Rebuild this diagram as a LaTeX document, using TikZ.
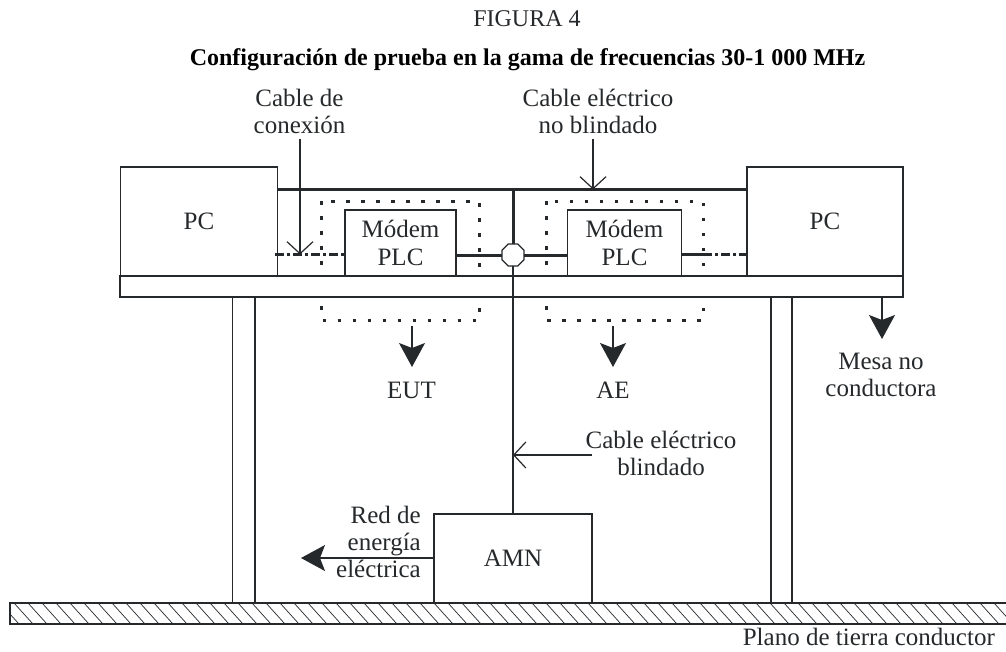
\documentclass[tikz,border=0pt]{standalone}
\usepackage{fontspec}
\setmainfont{Liberation Serif}
\usetikzlibrary{arrows.meta}
\usetikzlibrary{shapes.geometric}
\definecolor{ink}{HTML}{26292B}
\newcommand*{\thinw }{1.2pt}
\newcommand*{\thickw}{3pt}
\newcommand*{\topy  }{189.5}
\newcommand*{\cably }{255}
\newcommand*{\desky }{286.5}
\newcommand*{\footy }{450}
\tikzset{
    box/.style    = {draw, line width=\thinw, fill=white, inner sep=0pt, outer sep=0pt, align=center},
    txt/.style    = {inner sep=0pt, align=center, anchor=base},
    power/.style  = {line width=\thickw},
    thinln/.style = {line width=\thinw},
    dotbox/.style = {line width=3pt, dash pattern=on 3.5pt off 11.5pt},
    dashln/.style = {line width=\thickw, dash pattern=on 9pt off 3pt on 3pt off 3pt},
    openarr/.style = {line width=\thinw, -{Straight Barb[length=12pt,width=26pt,line width=\thinw]}},
    fillarr/.style = {line width=\thinw, -{Stealth[length=24pt,width=26pt,inset=5pt]}}
}
\begin{document}
\begin{tikzpicture}[x=1pt,y=-1pt,font=\fontsize{25}{27}\selectfont,color=ink]
    \useasboundingbox (0,0) rectangle (1006,651);
        \node [txt, font=\fontsize{24}{27}\selectfont] (title) at (527,26) {FIGURA 4};
        \node [txt, font=\fontsize{24}{27}\selectfont\bfseries, text=black] (subtitle) at (527.5,65) {Configuración de prueba en la gama de frecuencias 30-1 000 MHz};
        % dotted boxes go under the desk
        \draw [dotbox] (321.5,201) rectangle (479,320);
        \draw [dotbox] (546,201) rectangle (703,320);
        \node [box, minimum width=783pt, minimum height=21pt] (desk) at (511.5,\desky) {};
        \node [box, minimum width=22.5pt, minimum height=306pt] (legl) at (243.8,\footy) {};
        \node [box, minimum width=21pt, minimum height=306pt] (legr) at (781.5,\footy) {};
        \node [box, minimum width=157pt, minimum height=109pt] (pcl) at (199,221.5) {PC};
        \node [box, minimum width=156pt, minimum height=109pt] (pcr) at (825,221.5) {PC};
        \node [box, minimum width=111pt, minimum height=66pt, font=\fontsize{25}{28}\selectfont] (modl) at (400.5,243) {Módem\\PLC};
        \node [box, minimum width=114pt, minimum height=66pt, font=\fontsize{25}{28}\selectfont] (modr) at (624.5,243) {Módem\\PLC};
        \node [box, minimum width=158pt, minimum height=89pt] (amn) at (513,558.5) {AMN};
        \coordinate (joint) at (513,\topy);
        \draw [power] (pcl.east |- joint) -- (pcr.west |- joint);
        \node [box, regular polygon, regular polygon sides=8, minimum size=24pt] (oct) at (513,\cably) {};
        \draw [power] (joint) -- (oct);
        \draw [power] (modl.east |- oct) -- (oct);
        \draw [power] (oct) -- (modr.west |- oct);
        \draw [thinln] (oct) -- (amn);
        \coordinate (cabl) at (275,254.5);
        \coordinate (cabr) at (703,254.5);
        \draw [dashln] (cabl) -- (modl.west |- cabl);
        \draw [power] (modr.east |- cabr) -- (cabr);
        \draw [dashln] (cabr) -- (pcr.west |- cabr);
        % ground plane
        \begin{scope}
            \clip (10,603) rectangle (1006,624);
            \foreach \hx in {-14,0,...,1010} {
                \draw [line width=0.7pt] (\hx,603) -- ++(19,21);
            }
        \end{scope}
        \coordinate (gndtl) at (10,603);
        \coordinate (gndbl) at (10,624);
        \coordinate (gndtr) at (1006,603);
        \coordinate (gndbr) at (1006,624);
        \draw [thinln] (gndtr) -- (gndtl) -- (gndbl) -- (gndbr);
        % labels
        \node [txt] (lconn) at (299.5,133) {Cable de\\conexión};
        \node [txt] (lunsh) at (598,133) {Cable eléctrico\\no blindado};
        \node [txt] (lshld) at (661,475) {Cable eléctrico\\blindado};
        \node [txt] (leut) at (411.5,398) {EUT};
        \node [txt] (lae) at (613,398) {AE};
        \node [txt] (lmesa) at (881,396) {Mesa no\\conductora};
        \node [txt, align=right, anchor=base east] (lred) at (421,577) {Red de\\energía\\eléctrica};
        \node [txt, anchor=base east] (lplano) at (995,645) {Plano de tierra conductor};
        % pointers
        \coordinate (aconn) at (300,139);
        \coordinate (aunsh) at (593,139);
        \coordinate (ashld) at (592,455);
        \coordinate (aeut) at (412,326);
        \coordinate (aae) at (613,326);
        \coordinate (amesa) at (882,297);
        \coordinate (ared) at (301,558);
        \draw [openarr] (aconn) -- (aconn |- cabl);
        \draw [openarr] (aunsh) -- (aunsh |- joint);
        \draw [openarr] (ashld) -- (oct |- ashld);
        \draw [fillarr] (aeut) -- (412,367);
        \draw [fillarr] (aae) -- (613,367);
        \draw [fillarr] (amesa) -- (882,339);
        \draw [fillarr] (amn.west |- ared) -- (ared);
    \end{tikzpicture}
\end{document}
